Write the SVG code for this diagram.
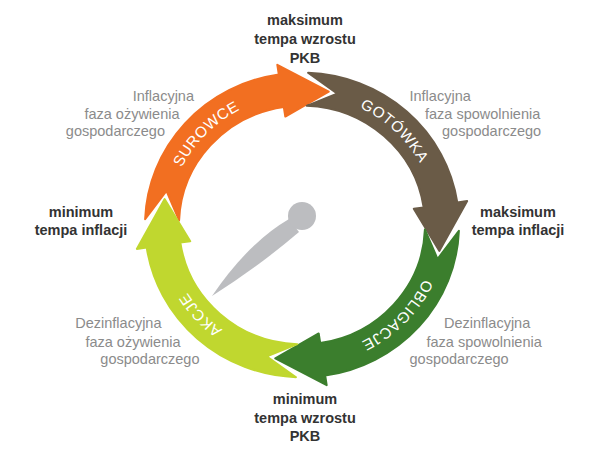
<svg xmlns="http://www.w3.org/2000/svg" width="605" height="456" viewBox="0 0 605 456">
<defs>
<style>
.bold{font-family:"Liberation Sans",Arial,sans-serif;font-weight:bold;font-size:14.5px;fill:#333;text-anchor:middle}
.gray{font-family:"Liberation Sans",Arial,sans-serif;font-size:14.5px;fill:#8b8b8b}
.end{text-anchor:end}
.arc{font-family:"Liberation Sans",Arial,sans-serif;font-size:15.5px;fill:#fff;letter-spacing:0.6px;text-anchor:middle}
</style>
<path id="arrow" stroke-width="2" stroke-linejoin="round" d="M-156.88,-6.03 A157,157 0 0 1 -23.21,-155.28 L-24.68,-165.17 L26.71,-137.43 L-16.70,-111.76 L-18.18,-121.65 A123,123 0 0 0 -122.91,-4.72 L-135.54,-35.05 Z"/>
<path id="tp" d="M134,0 A134,134 0 1 1 -134,0 A134,134 0 1 1 134,0" fill="none"/>
</defs>
<rect width="605" height="456" fill="#fff"/>
<g id="connectors" transform="translate(302,225) scale(1,0.97)">
  <g id="surowce"><use href="#arrow" fill="#F26F21" stroke="#F26F21"/><text class="arc"><textPath href="#tp" startOffset="524.6">SUROWCE</textPath></text></g>
  <g id="gotowka"><use href="#arrow" transform="rotate(90)" fill="#6A5B47" stroke="#6A5B47"/><text class="arc"><textPath href="#tp" startOffset="733.2">GOTÓWKA</textPath></text></g>
  <g id="obligacje"><use href="#arrow" transform="rotate(180)" fill="#3B7E2D" stroke="#3B7E2D"/><text class="arc"><textPath href="#tp" startOffset="103.5">OBLIGACJE</textPath></text></g>
  <g id="akcje"><use href="#arrow" transform="rotate(270)" fill="#C0D72F" stroke="#C0D72F"/><text class="arc"><textPath href="#tp" startOffset="321.8">AKCJE</textPath></text></g>
</g>
<g id="needle" fill="#BCBDC0">
  <path d="M289,219 Q248,243 212,296 Q258,267 299,232 Z"/>
  <circle cx="302" cy="216" r="14"/>
</g>
<g id="max-pkb"><text class="bold"><tspan x="305" y="25">maksimum</tspan><tspan x="305" y="44">tempa wzrostu</tspan><tspan x="305" y="62.5">PKB</tspan></text></g>
<g id="min-pkb"><text class="bold"><tspan x="305" y="403.5">minimum</tspan><tspan x="305" y="423">tempa wzrostu</tspan><tspan x="305" y="441">PKB</tspan></text></g>
<g id="min-infl"><text class="bold"><tspan x="81" y="217">minimum</tspan><tspan x="81" y="235">tempa inflacji</tspan></text></g>
<g id="max-infl"><text class="bold"><tspan x="518" y="217">maksimum</tspan><tspan x="518" y="235">tempa inflacji</tspan></text></g>
<g id="phase-tl"><text class="gray end"><tspan x="194" y="101">Inflacyjna</tspan><tspan x="179.5" y="118.5">faza ożywienia</tspan><tspan x="165" y="135.5">gospodarczego</tspan></text></g>
<g id="phase-tr"><text class="gray"><tspan x="409.5" y="101">Inflacyjna</tspan><tspan x="425" y="118.5">faza spowolnienia</tspan><tspan x="442" y="135.5">gospodarczego</tspan></text></g>
<g id="phase-bl"><text class="gray end"><tspan x="161.5" y="328">Dezinflacyjna</tspan><tspan x="180.5" y="346.5">faza ożywienia</tspan><tspan x="199.5" y="363.5">gospodarczego</tspan></text></g>
<g id="phase-br"><text class="gray"><tspan x="444" y="328">Dezinflacyjna</tspan><tspan x="426.5" y="346.5">faza spowolnienia</tspan><tspan x="409.5" y="363.5">gospodarczego</tspan></text></g>
</svg>
